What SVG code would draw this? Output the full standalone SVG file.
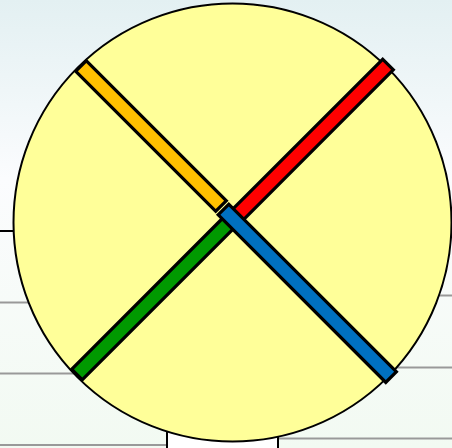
<svg xmlns="http://www.w3.org/2000/svg" width="452" height="448" viewBox="0 0 452 448">
<defs>
<linearGradient id="bg" x1="0" y1="0" x2="0" y2="1">
<stop offset="0" stop-color="#e3f0f2"/>
<stop offset="0.4" stop-color="#fbfcfe"/>
<stop offset="1" stop-color="#f2faf2"/>
</linearGradient>
<style>
.grid{stroke:#999;stroke-width:2;fill:none}
.stick{stroke:#000;stroke-width:3.2;stroke-linejoin:miter}
</style>
</defs>
<rect width="452" height="448" fill="url(#bg)"/>
<g id="background-lines">
<line x1="0" y1="231" x2="20" y2="231" stroke="#000" stroke-width="2"/>
<line class="grid" x1="0" y1="302.5" x2="60" y2="302.5"/>
<line class="grid" x1="0" y1="373.5" x2="90" y2="373.5"/>
<line class="grid" x1="0" y1="445" x2="170" y2="445"/>
<line class="grid" x1="400" y1="295.5" x2="452" y2="295.5"/>
<line class="grid" x1="380" y1="367.5" x2="452" y2="367.5"/>
<line class="grid" x1="276" y1="438.5" x2="452" y2="438.5"/>
<rect x="167" y="420" width="111" height="30" fill="#fff" stroke="#000" stroke-width="2"/>
</g>
<g id="circle">
<circle cx="232.5" cy="222.5" r="219" fill="#ffff99" stroke="#000" stroke-width="2"/>
</g>
<g id="connectors">
<rect id="orange" class="stick" fill="#ffc000" x="0" y="-7.5" width="198" height="15" transform="translate(81,66) rotate(45)"/>
<rect id="red" class="stick" fill="#ff0000" x="0" y="-7.5" width="219" height="15" transform="translate(388,64.5) rotate(135)"/>
<rect id="green" class="stick" fill="#009900" x="0" y="-7.5" width="220" height="15" transform="translate(77,374.5) rotate(-45)"/>
<rect id="blue" class="stick" fill="#0070c0" x="0" y="-7.5" width="237" height="15" transform="translate(223.5,209.5) rotate(45)"/>
</g>
</svg>
